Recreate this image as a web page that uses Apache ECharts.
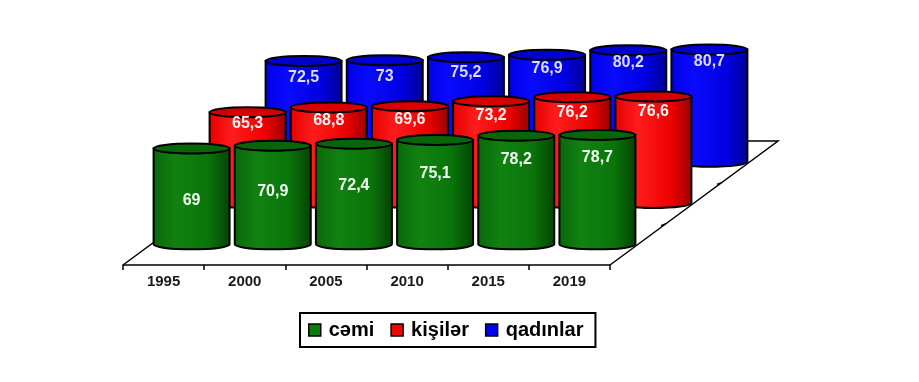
<!DOCTYPE html>
<html><head><meta charset="utf-8">
<script src="https://cdn.jsdelivr.net/npm/echarts@6/dist/echarts.min.js"></script>
<style>html,body{margin:0;padding:0;background:#fff}#c{width:919px;height:382px}</style>
</head><body><div id="c"></div>
<script>
const categories = ['1995', '2000', '2005', '2010', '2015', '2019'];
const cemi = [69, 70.9, 72.4, 75.1, 78.2, 78.7];
const kisiler = [65.3, 68.8, 69.6, 73.2, 76.2, 76.6];
const qadinlar = [72.5, 73, 75.2, 76.9, 80.2, 80.7];
const seriesNames = ['cəmi', 'kişilər', 'qadınlar'];

const FONT = '"Liberation Sans", Arial, sans-serif';
const DX = 56, DY = -41.3; // depth step per row (projection)
const STYLES = [
  { color: '#0a7d0a', top: '#096509', label: '#f2fff2',
    grad: ['#0a660a', '#118211', '#0a740a', '#034203'], lab: { a: 44, b: 4.43, v0: 69 } },
  { color: '#ff0000', top: '#d60000', label: '#fff4f4',
    grad: ['#e60000', '#ff1c1c', '#f00000', '#9a0000'], lab: { a: 79, b: 1.09, v0: 65.3 } },
  { color: '#0000ff', top: '#0000d0', label: '#dcdcff',
    grad: ['#0000e6', '#0a0aff', '#0000e2', '#000096'], lab: { a: 84, b: 2.0, v0: 72.5 } }
];

function fmt(v) { return String(v).replace('.', ','); }

function cylRender(row) {
  const st = STYLES[row];
  return function (params, api) {
    const cat = api.value(0), v = api.value(1);
    const b = api.coord([cat, 0]);
    const t = api.coord([cat, v]);
    const band = api.size([1, 0])[0];
    const cx = b[0] + (row + 0.5) * DX;
    const by = b[1] + (row + 0.5) * DY;
    const ty = t[1] + (row + 0.5) * DY;
    const rx = band * 0.468, ry = 5;
    const L = cx - rx, R = cx + rx;
    const body = 'M' + L + ' ' + ty + ' L' + L + ' ' + by +
      ' A' + rx + ' ' + ry + ' 0 0 0 ' + R + ' ' + by +
      ' L' + R + ' ' + ty + ' Z';
    const topP = 'M' + L + ' ' + ty + ' A' + rx + ' ' + ry + ' 0 0 0 ' + R + ' ' + ty +
      ' A' + rx + ' ' + ry + ' 0 0 0 ' + L + ' ' + ty + ' Z';
    const labY = by - (st.lab.a + st.lab.b * (v - st.lab.v0));
    return {
      type: 'group',
      children: [
        { type: 'path', shape: { pathData: body },
          style: { fill: new echarts.graphic.LinearGradient(0, 0, 1, 0, [
            { offset: 0, color: st.grad[0] }, { offset: 0.3, color: st.grad[1] },
            { offset: 0.72, color: st.grad[2] }, { offset: 1, color: st.grad[3] }]),
            stroke: '#000', lineWidth: 2 } },
        { type: 'path', shape: { pathData: topP },
          style: { fill: st.top, stroke: '#000', lineWidth: 2 } },
        { type: 'text', style: { text: fmt(v), x: cx, y: labY, align: 'center', verticalAlign: 'middle',
            textAlign: 'center', textVerticalAlign: 'middle',
            fill: st.label, font: 'bold 16px ' + FONT } }
      ]
    };
  };
}

function floorRender(params, api) {
  const band = api.size([1, 0])[0];
  const p0 = api.coord([0, 0]);
  const p1 = api.coord([categories.length - 1, 0]);
  const x0 = p0[0] - band / 2, x1 = p1[0] + band / 2, y = p0[1];
  const ddx = 3 * DX, ddy = 3 * DY;
  const ls = { stroke: '#000', lineWidth: 1.5, fill: null };
  const ch = [
    { type: 'polyline', shape: { points: [[x0, y], [x0 + ddx, y + ddy], [x1 + ddx, y + ddy], [x1, y]] }, style: ls }
  ];
  for (let k = 1; k < 3; k++) {
    const px = x1 + k * DX, py = y + k * DY;
    ch.push({ type: 'line', shape: { x1: px, y1: py, x2: px - 5, y2: py + 2 }, style: ls });
  }
  return { type: 'group', children: ch };
}

const rowsData = [cemi, kisiler, qadinlar];
const series = [];
series.push({ type: 'custom', name: 'floor', renderItem: floorRender, data: [[0, 0]], silent: true, z: 1 });
for (let r = 2; r >= 0; r--) {
  series.push({
    type: 'custom', name: seriesNames[r], renderItem: cylRender(r),
    itemStyle: { color: STYLES[r].color },
    encode: { x: 0, y: 1 },
    data: rowsData[r].map((v, i) => [i, v]), z: 2
  });
}

const chart = echarts.init(document.getElementById('c'), null, { renderer: 'canvas' });
chart.setOption({
  animation: false,
  backgroundColor: '#fff',
  grid: { left: 123, right: 309, top: 126, bottom: 117 },
  xAxis: {
    type: 'category', data: categories, boundaryGap: true,
    axisLine: { lineStyle: { color: '#000', width: 1.5 } },
    axisTick: { show: true, length: 5, lineStyle: { color: '#000', width: 1.5 } },
    axisLabel: { margin: 9, color: '#1a1a1a', fontFamily: FONT, fontWeight: 'bold', fontSize: 15 },
    z: 0
  },
  yAxis: { type: 'value', min: 0, max: 100, show: false, splitLine: { show: false } },
  legend: {
    data: seriesNames, left: 300, top: 313, icon: 'rect',
    itemWidth: 12, itemHeight: 12, itemGap: 16,
    padding: [7, 12, 7, 8],
    borderColor: '#000', borderWidth: 2,
    itemStyle: { borderColor: '#000', borderWidth: 1.5 },
    textStyle: { fontFamily: FONT, fontWeight: 'bold', fontSize: 20, color: '#000', padding: [0, 0, 0, 3] }
  },
  series: series
});
</script></body></html>
